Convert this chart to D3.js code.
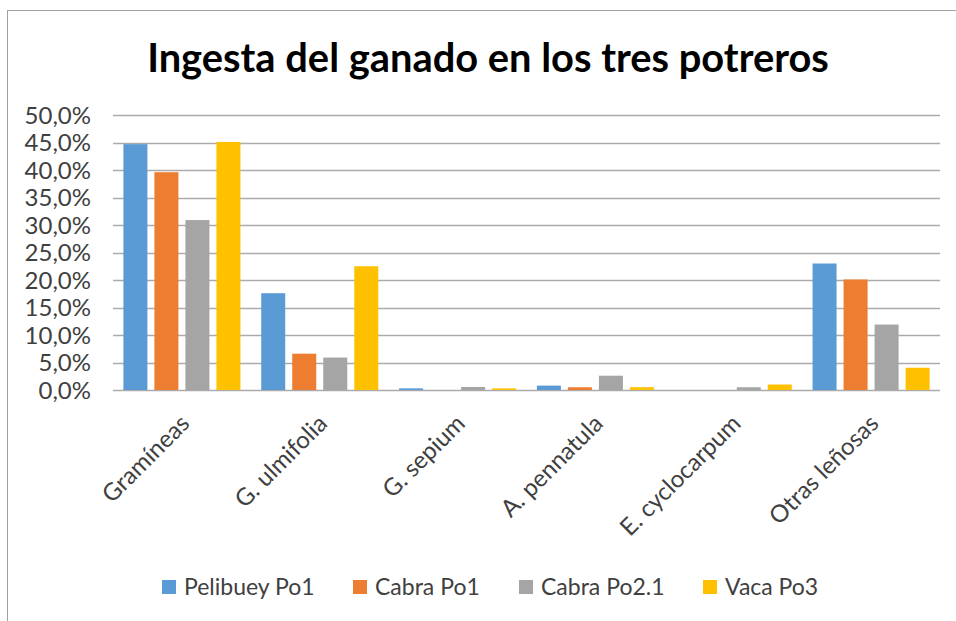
<!DOCTYPE html>
<html><head><meta charset="utf-8">
<script src="https://cdn.jsdelivr.net/npm/d3@7"></script>
<style>body{margin:0;background:#fff}svg{display:block}text{font-family:Lato,"Open Sans",sans-serif}</style>
</head><body>
<svg id="c" width="956" height="621"></svg>
<script>
const categories = ["Gramíneas","G. ulmifolia","G. sepium","A. pennatula","E. cyclocarpum","Otras leñosas"];
const seriesNames = ["Pelibuey Po1","Cabra Po1","Cabra Po2.1","Vaca Po3"];
const pelibueyPo1 = [0.447,0.176,0.003,0.008,0.000,0.230];
const cabraPo1    = [0.396,0.066,0.000,0.005,0.000,0.201];
const cabraPo21   = [0.309,0.059,0.0055,0.026,0.005,0.119];
const vacaPo3     = [0.451,0.225,0.003,0.005,0.010,0.0405];
const yTicks = [0,0.05,0.10,0.15,0.20,0.25,0.30,0.35,0.40,0.45,0.50];
const colors = ["#5B9BD5","#ED7D31","#A5A5A5","#FFC000"];
const series = [pelibueyPo1,cabraPo1,cabraPo21,vacaPo3];

const svg = d3.select("#c");
svg.append("rect").attr("x",7.5).attr("y",10.5).attr("width",960).attr("height",620)
  .attr("fill","none").attr("stroke","#a0a0a0").attr("stroke-width",1);

const x0 = d3.scaleBand().domain(categories).range([113,940]).paddingInner(0).paddingOuter(0);
const x1 = d3.scaleBand().domain(seriesNames).range([0,x0.bandwidth()]).paddingInner(0.226).paddingOuter(0.335);
const y = d3.scaleLinear().domain([0,0.5]).range([390,115]);

svg.append("g").selectAll("line").data(yTicks).join("line")
  .attr("x1",113).attr("x2",940).attr("y1",d=>Math.round(y(d))+0.5).attr("y2",d=>Math.round(y(d))+0.5)
  .attr("stroke","#ababab").attr("stroke-width",1.3);

const fmt = d=> (d*100).toFixed(1).replace(".",",")+"%";
svg.append("g").selectAll("text").data(yTicks).join("text")
  .attr("x",91).attr("y",d=>y(d)).attr("dy","0.36em").attr("text-anchor","end")
  .attr("font-size",24).attr("fill","#404040").text(fmt);

const g = svg.append("g");
series.forEach((vals,si)=>{
  g.append("g").selectAll("rect").data(vals).join("rect")
    .attr("x",(d,i)=>x0(categories[i])+x1(seriesNames[si]))
    .attr("width",x1.bandwidth())
    .attr("y",d=>y(d)).attr("height",d=>y(0)-y(d))
    .attr("fill",colors[si]);
});

svg.append("g").selectAll("text").data(categories).join("text")
  .attr("transform",d=>`translate(${x0(d)+x0.bandwidth()/2+9},${425}) rotate(-45)`)
  .attr("text-anchor","end")
  .attr("font-size",24).attr("fill","#404040").text(d=>d);

const t = svg.append("text").attr("x",488).attr("y",72).attr("text-anchor","middle")
  .attr("font-size",36).attr("font-weight","bold").attr("fill","#000")
  .text("Ingesta del ganado en los tres potreros");
const tw = t.node().getComputedTextLength();
t.attr("font-size",36*682/tw);

const legX = [162,353,519,703];
const leg = svg.append("g");
seriesNames.forEach((n,i)=>{
  leg.append("rect").attr("x",legX[i]).attr("y",580).attr("width",14).attr("height",14).attr("fill",colors[i]);
  leg.append("text").attr("x",legX[i]+22).attr("y",595)
    .attr("font-size",23).attr("fill","#404040").text(n);
});
</script>
</body></html>
